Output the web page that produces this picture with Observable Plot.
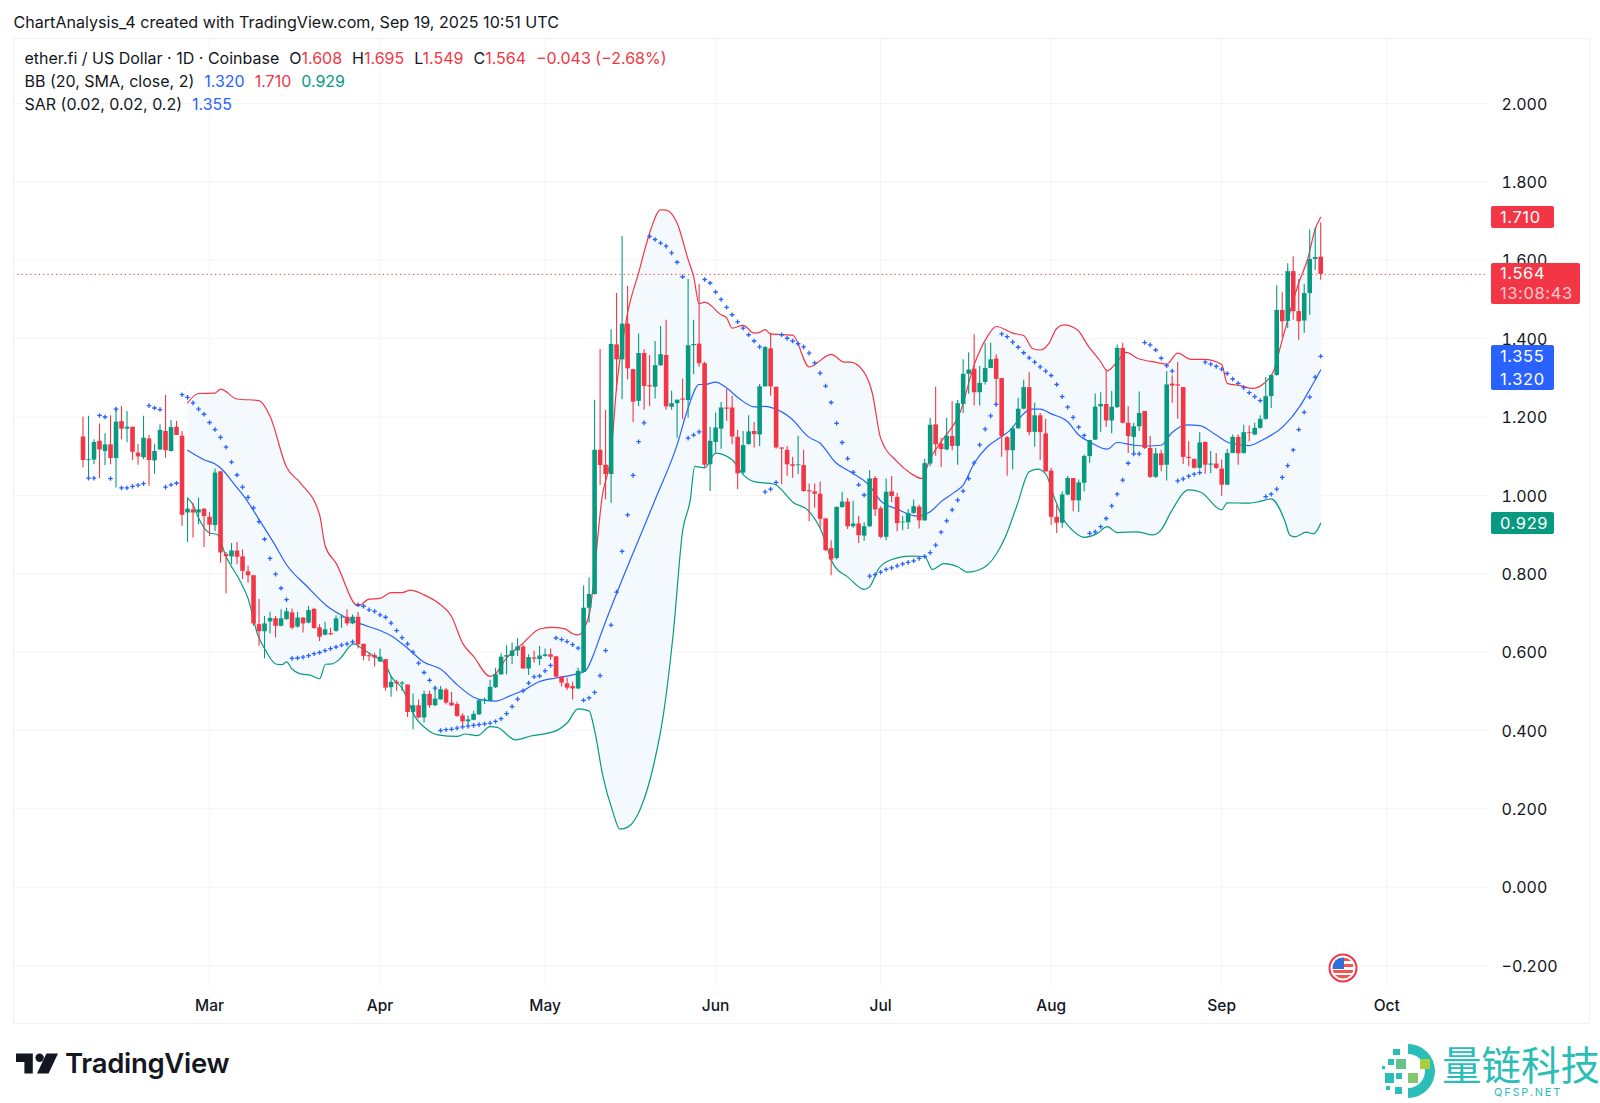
<!DOCTYPE html>
<html>
<head>
<meta charset="utf-8">
<script src="https://cdn.jsdelivr.net/npm/d3@7"></script>
<script src="https://cdn.jsdelivr.net/npm/@observablehq/plot@0.6"></script>
<style>
html,body{margin:0;padding:0;background:#fff;overflow:hidden}
body{width:1600px;height:1103px;position:relative;font-family:Inter,"Liberation Sans",sans-serif;color:#131722}
.abs{position:absolute;white-space:nowrap}
#frame{left:13px;top:38px;width:1577px;height:986px;border:1px solid #f0f1f3;box-sizing:border-box}
.lg{font-size:16px;line-height:20px;left:24.5px}
.r{color:#f23645}.b{color:#2962ff}.g{color:#089981}
.tag{color:#fff;font-size:16.5px;letter-spacing:.6px;left:1491px;border-radius:2px;box-sizing:border-box;padding-left:9px;width:63px}
</style>
</head>
<body>
<div id="chart" class="abs" style="left:0;top:0"></div>
<div id="frame" class="abs"></div>
<div class="abs" style="left:13.5px;top:11.5px;font-size:16.1px;line-height:20px">ChartAnalysis_4 created with TradingView.com, Sep 19, 2025 10:51 UTC</div>
<div id="l1" class="abs lg" style="top:48px"></div>
<div id="l2" class="abs lg" style="top:71px"></div>
<div id="l3" class="abs lg" style="top:94px"></div>
<div id="tags"></div>
<svg class="abs" style="left:1328px;top:953px" width="30" height="30" viewBox="0 0 30 30">
  <circle cx="15" cy="15" r="13.5" fill="#fff" stroke="#f23645" stroke-width="2"/>
  <clipPath id="fc"><circle cx="15" cy="15" r="10.5"/></clipPath>
  <g clip-path="url(#fc)">
    <rect x="3" y="3" width="24" height="24" fill="#fff"/>
    <rect x="3" y="5" width="24" height="3" fill="#f0554f"/><rect x="3" y="11" width="24" height="3" fill="#f0554f"/>
    <rect x="3" y="17" width="24" height="3" fill="#f0554f"/><rect x="3" y="22" width="24" height="4" fill="#f0554f"/>
    <rect x="3" y="3" width="13" height="13" fill="#2f6fd6"/>
  </g>
</svg>
<svg class="abs" style="left:16px;top:1052px" width="42" height="22" viewBox="0 0 40 20">
  <path d="M0 1H16V20H8V9H0Z" fill="#131722"/><circle cx="22.5" cy="5" r="4" fill="#131722"/>
  <path d="M29 1H40L31 20H20Z" fill="#131722"/>
</svg>
<div class="abs" style="left:65px;top:1045px;font-size:27.5px;line-height:36px;font-weight:600;letter-spacing:-.3px;color:#131722">TradingView</div>
<svg class="abs" style="left:1380px;top:1042px" width="58" height="58" viewBox="0 0 58 58">
  <path d="M28 2A27 27 0 0 1 28 56V46A17 17 0 0 0 28 12Z" fill="#2bbdb8"/>
  <rect x="16" y="17" width="10" height="10" fill="#62c48a"/><rect x="40" y="17" width="10" height="10" fill="#a9cf3f"/>
  <rect x="28" y="31" width="10" height="10" fill="#82c86a"/><rect x="5" y="31" width="9" height="10" fill="#2bbdb8"/>
  <rect x="16" y="31" width="6" height="6" fill="#2bbdb8"/><rect x="8" y="17" width="6" height="6" fill="#2bbdb8"/>
  <rect x="13" y="7" width="7" height="6" fill="#2bbdb8"/><rect x="15" y="45" width="7" height="7" fill="#2bbdb8"/>
  <rect x="6" y="44" width="4" height="4" fill="#2bbdb8"/><rect x="2" y="24" width="3" height="3" fill="#2bbdb8"/>
</svg>
<div class="abs" style="left:1442px;top:1036px;font-size:39.5px;line-height:54px;font-family:'Noto Sans CJK SC';color:#2bbdb8">量链科技</div>
<div class="abs" style="left:1494px;top:1085px;font-size:11px;line-height:14px;letter-spacing:1.8px;color:#2bbdb8">QFSP.NET</div>

<script>
// Candles: bar 0 = 6 Feb 2025, one bar per day
const opens=[1.149,1.089,1.090,1.138,1.112,1.129,1.094,1.188,1.169,1.174,
1.108,1.096,1.144,1.088,1.116,1.163,1.112,1.174,1.151,.955,
.963,.955,.965,.944,.923,1.060,.849,.843,.858,.843,
.805,.795,.670,.652,.677,.685,.666,.683,.700,.664,
.687,.674,.709,.662,.643,.647,.653,.687,.689,.672,
.689,.620,.591,.591,.575,.581,.509,.523,.518,.516,
.446,.463,.432,.492,.463,.478,.503,.470,.466,.437,
.422,.426,.440,.475,.474,.509,.542,.587,.589,.603,
.613,.557,.585,.581,.589,.593,.588,.536,.519,.512,
.506,.548,.712,.747,1.115,1.077,1.053,1.384,1.346,1.437,
1.321,1.240,1.362,1.280,1.276,1.331,1.357,1.225,1.234,1.246,
1.242,1.382,1.386,1.336,1.078,1.135,1.169,1.223,1.223,1.148,
1.057,1.130,1.163,1.154,1.277,1.374,1.276,1.121,1.115,1.078,
1.076,1.076,1.012,1.009,1.003,.940,.864,.839,.969,.983,
.920,.927,.896,.920,1.043,.966,.893,1.009,.995,.930,
.930,.954,.970,.935,1.080,1.180,1.131,1.116,1.150,1.125,
1.232,1.309,1.322,1.262,1.288,1.324,1.348,1.298,1.147,1.114,
1.170,1.220,1.275,1.161,1.203,1.157,1.062,.944,.929,1.001,
1.043,.986,1.031,1.099,1.141,1.226,1.232,1.190,1.224,1.375,
1.184,1.148,1.175,1.214,1.120,1.046,1.106,1.077,1.284,1.282,
1.275,1.097,1.092,1.069,1.135,1.077,1.080,1.067,1.026,1.107,
1.148,1.107,1.160,1.154,1.171,1.194,1.252,1.306,1.472,1.444,
1.571,1.469,1.445,1.515,1.602,1.608];
const closes=[1.089,1.091,1.135,1.116,1.129,1.094,1.187,1.169,1.174,1.110,
1.098,1.146,1.089,1.112,1.166,1.114,1.173,1.153,.949,.965,
.955,.963,.946,.924,1.057,.853,.844,.858,.842,.806,
.795,.672,.652,.672,.686,.666,.685,.703,.661,.687,
.672,.706,.660,.638,.657,.644,.685,.689,.672,.689,
.619,.589,.588,.585,.587,.508,.523,.519,.521,.446,
.463,.432,.492,.463,.480,.504,.470,.463,.436,.422,
.427,.441,.476,.478,.510,.542,.587,.591,.603,.613,
.557,.586,.582,.590,.593,.587,.536,.521,.508,.506,
.551,.712,.747,1.115,1.076,1.053,1.385,1.346,1.437,1.323,
1.238,1.362,1.278,1.277,1.331,1.359,1.226,1.234,1.243,1.243,
1.382,1.385,1.336,1.077,1.138,1.172,1.223,1.220,1.149,1.055,
1.127,1.162,1.155,1.277,1.377,1.277,1.121,1.118,1.078,1.074,
1.078,1.010,1.009,1.003,.939,.859,.835,.969,.983,.920,
.927,.897,.920,1.042,.963,.893,1.008,.997,.928,.932,
.954,.971,.935,1.081,1.179,1.129,1.117,1.151,1.125,1.234,
1.309,1.320,1.262,1.286,1.324,1.346,1.296,1.150,1.114,1.170,
1.220,1.275,1.160,1.203,1.160,1.060,.944,.929,1.001,1.043,
.986,1.032,1.099,1.140,1.225,1.232,1.190,1.225,1.375,1.184,
1.150,1.175,1.209,1.120,1.046,1.106,1.076,1.282,1.279,1.279,
1.097,1.094,1.069,1.134,1.077,1.080,1.069,1.026,1.107,1.148,
1.106,1.160,1.158,1.171,1.194,1.252,1.306,1.472,1.443,1.571,
1.469,1.443,1.515,1.602,1.607,1.564];
const highs=[1.200,1.202,1.142,1.182,1.157,1.203,1.223,1.227,1.214,1.174,
1.130,1.202,1.153,1.130,1.180,1.255,1.191,1.189,1.163,.993,
.980,.993,.965,.957,1.067,1.061,.854,.877,.880,.861,
.819,.795,.734,.691,.702,.691,.708,.712,.710,.701,
.687,.717,.712,.670,.676,.661,.693,.695,.708,.695,
.701,.620,.597,.597,.608,.581,.538,.528,.525,.516,
.493,.478,.500,.500,.512,.512,.507,.497,.472,.443,
.436,.449,.479,.483,.528,.559,.596,.616,.623,.634,
.619,.593,.602,.614,.608,.608,.588,.538,.534,.523,
.559,.769,.789,1.243,1.372,1.217,1.423,1.515,1.661,1.534,
1.321,1.412,1.372,1.357,1.393,1.431,1.447,1.266,1.243,1.297,
1.551,1.447,1.538,1.340,1.174,1.210,1.237,1.270,1.253,1.166,
1.163,1.203,1.186,1.283,1.380,1.413,1.276,1.121,1.125,1.097,
1.151,1.115,1.029,1.029,1.034,.940,.884,.971,1.008,.992,
.985,.947,.930,1.063,1.048,.971,1.042,1.048,1.005,.946,
.964,.988,.975,1.092,1.197,1.276,1.146,1.197,1.239,1.242,
1.346,1.364,1.410,1.329,1.388,1.388,1.359,1.298,1.150,1.175,
1.248,1.294,1.314,1.235,1.209,1.194,1.069,.975,1.009,1.048,
1.043,1.039,1.103,1.141,1.259,1.262,1.320,1.265,1.384,1.388,
1.226,1.184,1.264,1.214,1.150,1.120,1.116,1.316,1.305,1.339,
1.275,1.137,1.092,1.160,1.137,1.112,1.107,1.090,1.117,1.154,
1.154,1.179,1.177,1.184,1.203,1.301,1.307,1.535,1.517,1.591,
1.609,1.551,1.538,1.677,1.683,1.695];
const lows=[1.070,1.044,1.078,1.043,1.076,1.078,1.019,1.142,1.134,1.089,
1.077,1.091,1.023,1.054,1.114,1.095,1.111,1.153,.921,.880,
.891,.925,.867,.895,.908,.827,.748,.823,.823,.785,
.776,.666,.615,.583,.646,.636,.664,.681,.657,.661,
.649,.672,.659,.627,.642,.643,.651,.661,.666,.670,
.608,.578,.576,.562,.574,.500,.485,.500,.500,.433,
.402,.429,.419,.457,.461,.477,.465,.461,.434,.410,
.414,.425,.438,.466,.472,.507,.540,.542,.568,.589,
.556,.540,.572,.565,.587,.579,.534,.511,.502,.478,
.504,.546,.674,.745,1.025,.989,.980,1.266,1.244,1.295,
1.186,1.226,1.217,1.227,1.246,1.329,1.217,1.217,1.146,1.193,
1.197,1.308,1.327,1.070,1.010,1.108,1.118,1.189,1.129,1.015,
1.053,1.128,1.121,1.125,1.276,1.253,1.118,1.027,1.049,1.044,
1.053,1.008,.933,.967,.916,.856,.795,.835,.967,.913,
.916,.877,.883,.918,.946,.889,.884,.981,.907,.910,
.913,.952,.914,.934,1.073,1.100,1.071,1.114,1.114,1.077,
1.209,1.258,1.228,1.228,1.282,1.323,1.228,1.097,1.049,1.065,
1.169,1.218,1.152,1.123,1.089,1.059,.924,.903,.916,.999,
.958,.956,1.009,1.082,1.140,1.161,1.173,1.157,1.222,1.182,
1.107,1.107,1.163,1.117,1.043,1.043,1.060,1.037,1.235,1.194,
1.079,1.073,1.067,1.065,1.054,1.056,1.066,.998,1.025,1.106,
1.077,1.105,1.137,1.152,1.169,1.192,1.222,1.304,1.402,1.425,
1.447,1.396,1.414,1.460,1.574,1.549];

// Bollinger bands: sampled [bar, value] readings
const upperBars=[19,21,24,25,28,32,34,37,39.5,43,44,46,50,52,54,56,58,59.5,62,65,67,69,71,74,75,77,80,83,85,87.5,89,90,92,94.4,96,97,99,101,103.2,105,106,108,110,111,112,113,116,117,118,120,122,123,124,125,129,132,136,138.4,139.5,142,143.5,145,148,150.5,152.5,154,156,159.5,162,164.4,166,169,171,172.6,174,175.6,177,178.3,180.8,182.6,185,186.2,188,189.6,191.7,195.3,197,199,201.4,203.8,207,208,210.4,212.6,214.7,216.5,218,221,222.6,224,225];
const upperVals=[1.236,1.260,1.261,1.271,1.246,1.242,1.202,1.072,1.032,.951,.872,.827,.718,.735,.737,.752,.752,.758,.746,.721,.691,.623,.589,.538,.545,.585,.623,.659,.663,.660,.647,.644,.695,.999,1.108,1.278,1.466,1.568,1.678,1.729,1.728,1.695,1.602,1.559,1.489,1.493,1.461,1.453,1.427,1.434,1.414,1.416,1.423,1.412,1.409,1.328,1.360,1.340,1.340,1.314,1.260,1.146,1.086,1.056,1.043,1.094,1.137,1.214,1.333,1.405,1.431,1.414,1.408,1.375,1.371,1.388,1.426,1.435,1.422,1.384,1.341,1.318,1.341,1.365,1.350,1.339,1.335,1.363,1.347,1.347,1.334,1.286,1.280,1.273,1.286,1.320,1.397,1.542,1.602,1.680,1.710];
const midBars=[19,22,24,25.3,27.4,29.5,32.2,34.7,37,40.7,44.4,47.4,50.5,54,56,59,62,65,68,71,73.5,75,77.7,80,83,86,89,91.3,92.9,94,104,108,110,112,113,115,117,119.3,122,124,125.6,128.6,132,134,136.8,139.5,142.9,145,148,151.7,154,156,158.3,160,162,164.4,167,168.6,170.5,172.3,174,176,179,181,183.2,186.2,188,191,193.5,196,197.8,200.8,203,206,208.6,212,214.5,218.2,221.2,223,225];
const midVals=[1.115,1.091,1.080,1.066,1.030,.993,.934,.878,.823,.768,.717,.691,.672,.655,.642,.610,.574,.557,.517,.485,.476,.475,.489,.502,.525,.534,.542,.552,.597,.640,.989,1.129,1.223,1.283,1.283,1.289,1.274,1.247,1.226,1.227,1.222,1.198,1.148,1.133,1.084,1.060,1.026,.986,.965,.947,.958,.984,1.007,1.026,1.082,1.124,1.150,1.167,1.201,1.220,1.220,1.208,1.188,1.154,1.135,1.118,1.135,1.128,1.126,1.128,1.158,1.180,1.178,1.154,1.133,1.127,1.142,1.176,1.227,1.270,1.320];
const lowerBars=[19,20,21,23,24.4,26,28.6,30,31.7,33.2,35.2,36.2,37,38,40.1,41.1,43,44.1,45.3,46.5,49.2,51,53,55,56,58,60.5,62.6,64.5,68,69.5,71.7,74,75.3,78.6,81.4,85.6,88,90,92,93,94.5,96.3,97.6,99.1,101.5,103.7,105.5,107.3,109,110.4,111.2,113,115,118,120,122,125.6,129.3,131.7,134,136.5,139,142,143,144.7,146.8,150.5,153,154.4,156.5,159,160.8,163.8,166.8,167.7,169.8,172,173.5,175,176.5,178.3,179.8,182,184.4,186.2,188,191.7,194.4,196,197.8,201,203.2,207,208,211.7,213.8,216,218.5,219.4,220.3,222.4,223.6,224.4,225];
const lowerVals=[.993,.976,.942,.904,.900,.844,.780,.737,.647,.604,.569,.568,.575,.557,.543,.542,.532,.569,.570,.580,.621,.606,.589,.568,.538,.508,.432,.402,.389,.385,.391,.387,.410,.408,.376,.386,.397,.419,.455,.450,.400,.284,.193,.148,.154,.206,.310,.440,.648,.909,.989,1.074,1.070,1.108,1.091,1.053,1.035,1.029,.980,.963,.916,.822,.792,.760,.767,.814,.835,.845,.844,.811,.826,.818,.804,.816,.869,.895,.975,1.060,1.067,1.055,.997,.937,.912,.893,.903,.920,.905,.907,.899,.912,.958,1.014,1.008,.963,.981,.980,.984,.991,.934,.898,.894,.906,.902,.912,.929];

// Parabolic SAR: one reading per bar, first reading at bar 1
const sarVals=[1.044,1.044,1.204,1.200,1.043,1.220,1.019,1.019,1.023,1.026,
1.030,1.229,1.223,1.219,1.021,1.027,1.031,1.257,1.250,1.236,
1.220,1.207,1.186,1.168,1.148,1.123,1.085,1.052,1.021,.995,
.968,.933,.888,.839,.799,.763,.734,.584,.585,.587,
.591,.596,.599,.604,.609,.613,.618,.621,.626,.721,
.717,.708,.704,.695,.689,.674,.655,.637,.621,.600,
.572,.548,.528,.508,.400,.402,.403,.406,.409,.411,
.413,.415,.417,.419,.423,.430,.443,.461,.480,.501,
.521,.537,.539,.552,.566,.636,.632,.627,.619,.610,
.477,.483,.497,.540,.604,.669,.753,.857,.950,1.051,
1.137,1.185,1.661,1.653,1.644,1.636,1.619,1.595,1.558,1.146,
1.154,1.162,1.551,1.542,1.519,1.500,1.480,1.461,1.443,1.427,
1.410,1.394,1.379,1.009,1.016,1.033,1.410,1.401,1.394,1.387,
1.379,1.363,1.338,1.312,1.279,1.237,1.184,1.135,1.094,1.059,
1.027,1.001,.794,.798,.804,.811,.815,.820,.825,.829,
.833,.839,.844,.854,.873,.906,.935,.963,.988,1.011,
1.043,1.083,1.129,1.169,1.203,1.232,1.412,1.405,1.391,1.378,
1.364,1.351,1.340,1.328,1.317,1.306,1.283,1.252,1.225,1.199,
1.174,1.153,.903,.907,.920,.941,.973,1.003,1.039,1.082,
1.106,1.106,1.390,1.384,1.371,1.350,1.331,1.317,1.037,1.042,
1.049,1.054,1.058,1.340,1.335,1.329,1.322,1.311,1.297,1.286,
1.275,1.262,1.252,1.242,.997,1.003,1.016,1.046,1.076,1.116,
1.168,1.212,1.251,1.302,1.355];

const yTicks=[-0.2,0,0.2,0.4,0.6,0.8,1,1.2,1.4,1.6,1.8,2];
const monthBars=[23,54,84,115,145,176,207,237];
const monthLabels=["Mar","Apr","May","Jun","Jul","Aug","Sep","Oct"];
const lastPrice=1.564, bbMid=1.320, bbUp=1.710, bbLow=0.929, sarLast=1.355;

const RED="#f23645",GREEN="#089981",BLUE="#2962ff",GRID="#f3f4f6",BAND="#f4f9fd";
const candles=opens.map((o,i)=>({i,o,c:closes[i],h:highs[i],l:lows[i],col:closes[i]>=o?GREEN:RED}));
const pts=(xs,ys)=>xs.map((i,k)=>({i,v:ys[k]}));
const upper=pts(upperBars,upperVals),mid=pts(midBars,midVals),lower=pts(lowerBars,lowerVals);
const sar=sarVals.map((v,k)=>({i:k+1,v}));
const bandShape=upper.concat(lower.slice().reverse());

const plot=Plot.plot({
  width:1600,height:1103,
  marginLeft:13,marginRight:112,marginTop:38,marginBottom:117,
  style:{fontFamily:"Inter, sans-serif",background:"transparent",color:"#131722"},
  x:{type:"linear",domain:[-12.636,255.5]},
  y:{type:"linear",domain:[-0.2534,2.166]},
  marks:[
    Plot.ruleX(monthBars,{stroke:GRID,strokeWidth:1}),
    Plot.ruleY(yTicks,{stroke:GRID,strokeWidth:1}),
    Plot.line(bandShape,{x:"i",y:"v",fill:BAND,stroke:null}),
    Plot.ruleY([lastPrice],{stroke:RED,strokeWidth:1,strokeDasharray:"1.3,3"}),
    Plot.line(upper,{x:"i",y:"v",stroke:RED,strokeWidth:1.2,curve:"monotone-x"}),
    Plot.line(mid,{x:"i",y:"v",stroke:BLUE,strokeWidth:1.2,curve:"monotone-x"}),
    Plot.line(lower,{x:"i",y:"v",stroke:GREEN,strokeWidth:1.2,curve:"monotone-x"}),
    Plot.ruleX(candles,{x:"i",y1:"l",y2:"h",stroke:"col",strokeWidth:1.1}),
    Plot.ruleX(candles,{x:"i",y1:"o",y2:"c",stroke:"col",strokeWidth:4.6}),
    Plot.dot(sar,{x:"i",y:"v",symbol:"plus",r:1.6,stroke:BLUE,strokeWidth:1.3}),
    Plot.axisY({anchor:"right",ticks:yTicks,tickSize:0,tickPadding:13,dy:1,tickFormat:d3.format(".3f"),fontSize:16,label:null}),
    Plot.axisX({anchor:"bottom",ticks:monthBars,tickSize:0,tickPadding:13,tickFormat:d=>monthLabels[monthBars.indexOf(d)],fontSize:15.5,fontWeight:500,label:null})
  ]
});
document.getElementById("chart").appendChild(plot);

const f3=d3.format(".3f");
document.getElementById("l1").innerHTML=`ether.fi / US Dollar · 1D · Coinbase<span style="margin-left:10px">O</span><span class="r">${f3(opens[225])}</span><span style="margin-left:10px">H</span><span class="r">${f3(highs[225])}</span><span style="margin-left:10px">L</span><span class="r">${f3(lows[225])}</span><span style="margin-left:10px">C</span><span class="r">${f3(closes[225])}</span><span class="r" style="margin-left:10px">−0.043 (−2.68%)</span>`;
document.getElementById("l2").innerHTML=`BB (20, SMA, close, 2)<span class="b" style="margin-left:10px">${f3(bbMid)}</span><span class="r" style="margin-left:10px">${f3(bbUp)}</span><span class="g" style="margin-left:10px">${f3(bbLow)}</span>`;
document.getElementById("l3").innerHTML=`SAR (0.02, 0.02, 0.2)<span class="b" style="margin-left:10px">${f3(sarLast)}</span>`;
const tag=(top,h,bg,html,w)=>`<div class="abs tag" style="top:${top}px;height:${h}px;background:${bg};line-height:${h}px;${w?`width:${w}px;`:""}">${html}</div>`;
document.getElementById("tags").innerHTML=
 tag(206,22,RED,f3(bbUp))+
 `<div class="abs tag" style="top:263px;height:41px;width:89px;background:${RED};line-height:20px;padding-top:0">${f3(lastPrice)}<br><span style="opacity:.72">13:08:43</span></div>`+
 `<div class="abs tag" style="top:345px;height:45px;background:${BLUE};line-height:23px">${f3(sarLast)}<br>${f3(bbMid)}</div>`+
 tag(512,22,GREEN,f3(bbLow));
</script>
</body>
</html>
